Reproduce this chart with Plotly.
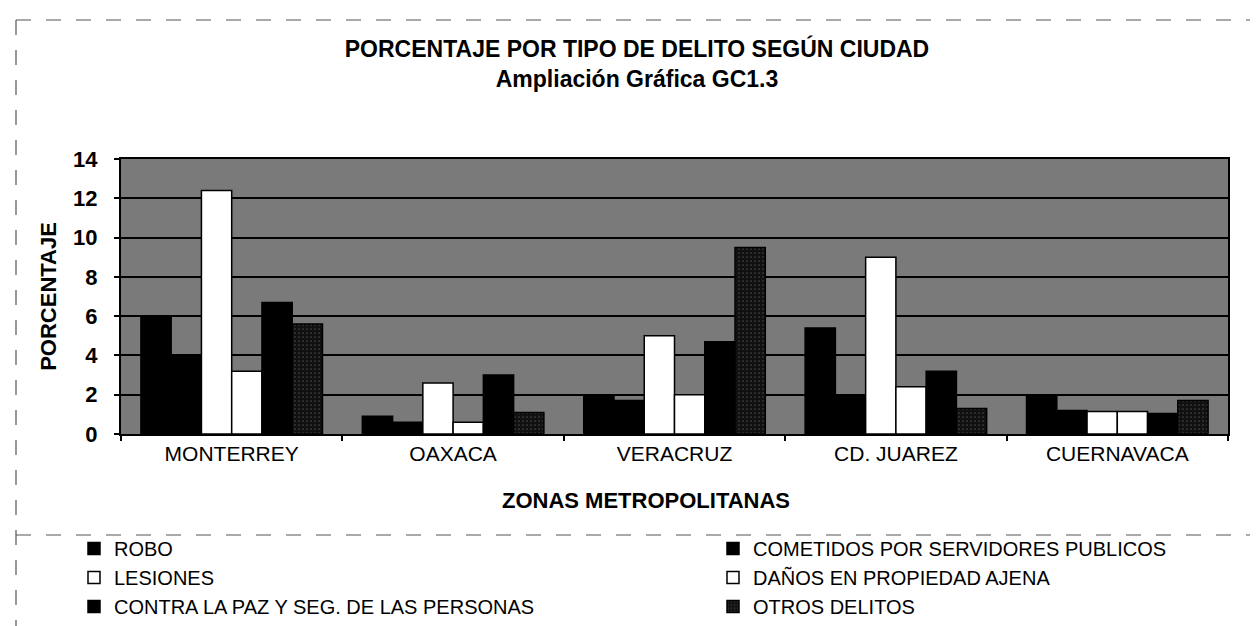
import plotly.graph_objects as go

# ---- data ----
cities = ["MONTERREY", "OAXACA", "VERACRUZ", "CD. JUAREZ", "CUERNAVACA"]
robo = [6.0, 0.9, 2.0, 5.4, 1.9]
cometidos = [4.0, 0.6, 1.7, 2.0, 1.2]
lesiones = [12.4, 2.6, 5.0, 9.0, 1.15]
danos = [3.2, 0.6, 2.0, 2.4, 1.15]
contra = [6.7, 3.0, 4.7, 3.2, 1.05]
otros = [5.6, 1.1, 9.5, 1.3, 1.7]

names = ["ROBO", "COMETIDOS POR SERVIDORES PUBLICOS", "LESIONES",
         "DAÑOS EN PROPIEDAD AJENA", "CONTRA LA PAZ Y SEG. DE LAS PERSONAS",
         "OTROS DELITOS"]
series = [robo, cometidos, lesiones, danos, contra, otros]
fills = ["#000000", "#000000", "#ffffff", "#ffffff", "#000000", "#111111"]
legends = ["legend", "legend2", "legend", "legend2", "legend", "legend2"]

FONT = "Arial, Liberation Sans, sans-serif"

# layout geometry (pixels)
W, H = 1258, 626
L, R, T, B = 113, 38, 151, 200
PW = W - L - R
PH = H - T - B


def px(x):
    return (x - L) / PW


def py(y):
    return (H - B - y) / PH


fig = go.Figure()
for n, v, c, lg in zip(names, series, fills, legends):
    marker = dict(color=c, line=dict(color="#000000", width=1.5))
    if n == "OTROS DELITOS":
        marker["pattern"] = dict(shape=".", fgcolor="#777777", bgcolor="#111111",
                                 size=4, solidity=0.15)
    fig.add_trace(go.Bar(x=cities, y=v, name=n, marker=marker,
                         legend=lg, legendgroup=n))

legend_common = dict(
    orientation="v", xanchor="left", yanchor="top",
    font=dict(family=FONT, size=20, color="#000000"),
    bgcolor="rgba(0,0,0,0)", traceorder="grouped", tracegroupgap=0,
    itemwidth=30,
)

frame = dict(type="line", xref="paper", yref="paper",
             line=dict(color="#555555", width=1.2, dash="longdash"))
shapes = [
    dict(frame, x0=px(8), x1=px(1254), y0=py(12), y1=py(12)),
    dict(frame, x0=px(8), x1=px(8), y0=py(12), y1=py(624)),
    dict(frame, x0=px(1254), x1=px(1254), y0=py(12), y1=py(624)),
    dict(frame, x0=px(8), x1=px(1254), y0=py(527), y1=py(527)),
    dict(frame, x0=px(8), x1=px(1254), y0=py(624), y1=py(624)),
]

fig.update_layout(
    width=W, height=H,
    margin=dict(l=L, r=R, t=T, b=B, autoexpand=False),
    paper_bgcolor="#ffffff",
    plot_bgcolor="#7a7a7a",
    barmode="group", bargap=0.18, bargroupgap=0,
    font=dict(family=FONT, color="#000000"),
    title=dict(
        text="<b>PORCENTAJE POR TIPO DE DELITO SEGÚN CIUDAD</b><br><b>Ampliación Gráfica GC1.3</b>",
        x=0.5, xref="container", xanchor="center",
        y=1 - 49 / H, yanchor="top", yref="container",
        font=dict(family=FONT, size=23, color="#000000"),
    ),
    xaxis=dict(
        showgrid=False, showline=True, linecolor="#000000", linewidth=2,
        mirror=True, ticks="outside", tickson="boundaries", ticklen=5,
        tickcolor="#000000", tickwidth=1.5,
        tickfont=dict(family=FONT, size=21, color="#000000"),
    ),
    yaxis=dict(
        range=[0, 14], dtick=2, showgrid=True, gridcolor="#000000", gridwidth=2,
        showline=True, linecolor="#000000", linewidth=2, mirror=True,
        ticks="outside", ticklen=5, tickcolor="#000000", tickwidth=1.5,
        ticklabelstandoff=12,
        tickfont=dict(family=FONT, size=22, color="#000000", weight="bold"),
        zeroline=False,
        title=dict(text="<b>PORCENTAJE</b>", standoff=10,
                   font=dict(family=FONT, size=22, color="#000000")),
    ),
    legend=dict(legend_common, x=px(66), y=py(521)),
    legend2=dict(legend_common, x=px(705), y=py(521)),
    annotations=[dict(
        text="<b>ZONAS METROPOLITANAS</b>", xref="paper", yref="paper",
        x=px(638), y=py(492), xanchor="center", yanchor="middle",
        showarrow=False, font=dict(family=FONT, size=22, color="#000000"),
    )],
    shapes=shapes,
)

fig.write_html("out.html")
